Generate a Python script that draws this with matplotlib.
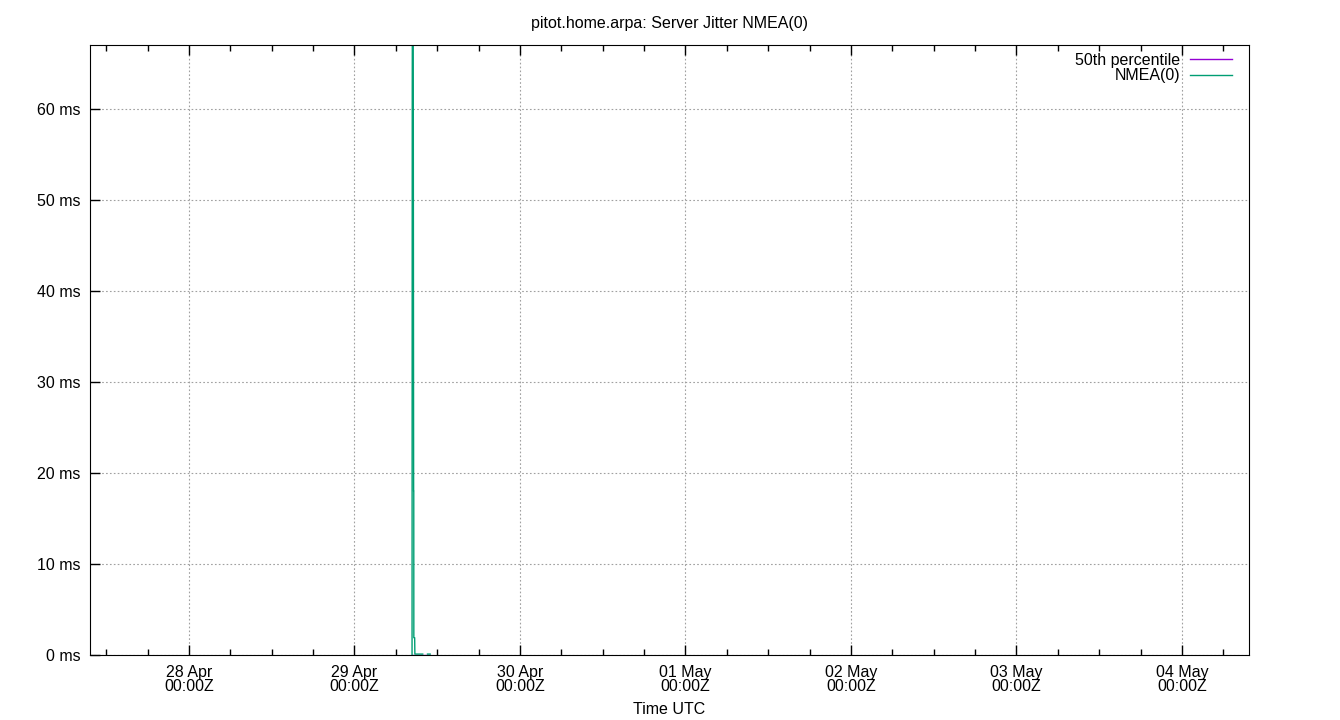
import numpy as np
import matplotlib
matplotlib.use("Agg")
import matplotlib.pyplot as plt
import matplotlib.dates as mdates
from datetime import datetime, timedelta

plt.rcParams['font.family'] = ['Liberation Sans', 'DejaVu Sans']
plt.rcParams['font.size'] = 11.5

# hours after 29 Apr 00:00Z, jitter in ms (nan = gap in data)
base = datetime(2024, 4, 29)
hours = [8.35, 8.38, 8.45, 8.53, 8.58, 8.60, 8.61, 8.73, 8.76, 9.90, np.nan, 10.59, 10.98]
jitter = [0.0, 62.0, 100.0, 62.0, 18.0, 18.0, 1.9, 1.9, 0.1, 0.1, np.nan, 0.1, 0.1]
p50 = 0.0

times = [base + timedelta(hours=h) if not np.isnan(h) else base for h in hours]
jit = np.array(jitter)

fig = plt.figure(figsize=(13.4, 7.2), dpi=100)
ax = fig.add_axes([90/1340, 1-655/720, (1249-90)/1340, (655-45)/720])

ax.plot([times[0], times[-1]], [p50, p50], color='#9400d3', lw=1, label='50th percentile')
ax.plot(times, jit, color='#009e73', lw=1, label='NMEA(0)')

ax.set_xlim(datetime(2024, 4, 27, 9, 39), datetime(2024, 5, 4, 9, 43))
ax.set_ylim(0, 67)

ax.xaxis.set_major_locator(mdates.DayLocator())
ax.xaxis.set_major_formatter(mdates.DateFormatter('%d %b\n%H:%MZ'))
ax.xaxis.set_minor_locator(mdates.HourLocator(byhour=[6, 12, 18]))
ax.set_yticks(range(0, 70, 10))
ax.set_yticklabels([f'{v} ms' for v in range(0, 70, 10)])

ax.tick_params(which='both', direction='in', top=True, right=False, color='black')
ax.tick_params(which='major', length=7, width=1, pad=7)
ax.tick_params(which='minor', length=4, width=1)
ax.tick_params(axis='x', which='major', pad=7)
for lab in ax.get_xticklabels():
    lab.set_linespacing(0.95)

ax.grid(True, which='major', color='#a0a0a0', linestyle=(0, (1.5, 2)), lw=0.8)

ax.set_title('pitot.home.arpa: Server Jitter NMEA(0)', fontsize=11.5, pad=12)
ax.set_xlabel('Time UTC', labelpad=6)

ax.legend(loc='upper right', frameon=False, markerfirst=False, handlelength=2.65,
          handletextpad=0.6, labelspacing=0.02, borderaxespad=0, borderpad=0,
          bbox_to_anchor=(1 - 17/1159, 1 - 8/610), fontsize=11.5)

fig.savefig('out.png', dpi=100)
